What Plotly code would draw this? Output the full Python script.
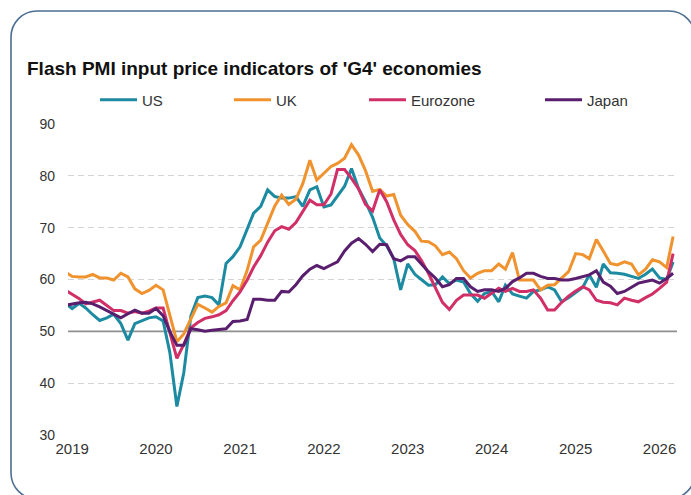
import pandas as pd
import plotly.graph_objects as go

# ---------------- data (monthly, Dec 2018 .. Mar 2026) ----------------
start_month = "2018-12-01"

us = [55.5, 54.4, 55.4, 54.5, 53.2, 52.1, 52.6, 53.3, 51.5, 48.3, 51.5, 52.1, 52.6, 52.8, 52.0,
      46.0, 35.5, 42.0, 53.0, 56.5, 56.8, 56.5, 55.1, 63.1, 64.4, 66.3, 69.6, 72.8, 74.1, 77.3,
      76.0, 75.7, 75.7, 76.0, 74.1, 77.3, 77.9, 74.0, 74.4, 76.0, 78.0, 81.4, 77.5, 75.0, 72.0,
      68.0, 66.5, 64.0, 58.0, 63.0, 61.0, 60.0, 58.9, 59.0, 60.5, 59.2, 59.9, 59.5, 57.3, 55.8,
      57.3, 57.7, 55.7, 58.9, 57.2, 56.8, 56.4, 57.7, 58.0, 58.6, 58.0, 55.7, 56.5, 57.5, 58.5,
      60.9, 58.5, 63.0, 61.3, 61.2, 61.0, 60.6, 60.2, 61.0, 62.0, 60.3, 60.0, 63.4]

uk = [61.5, 60.6, 60.5, 60.5, 61.0, 60.3, 60.3, 59.9, 61.2, 60.5, 58.2, 57.3, 57.9, 58.9, 58.0,
      53.0, 48.0, 49.5, 52.5, 55.2, 54.5, 53.7, 54.8, 55.5, 58.8, 58.0, 61.8, 66.3, 67.6, 70.8,
      74.2, 76.3, 74.5, 75.5, 78.5, 83.0, 79.2, 80.5, 81.8, 82.4, 83.4, 86.0, 84.0, 81.0, 77.0,
      77.4, 76.1, 76.4, 72.4, 70.6, 69.3, 67.4, 67.3, 66.5, 64.8, 65.3, 64.0, 61.7, 60.3, 61.2,
      61.7, 61.7, 63.0, 62.0, 65.2, 59.9, 59.9, 59.9, 58.0, 58.9, 59.0, 60.3, 61.5, 65.0, 64.8,
      64.0, 67.7, 65.5, 63.1, 62.8, 63.4, 63.0, 60.9, 62.0, 63.8, 63.4, 62.3, 68.3]

eurozone = [58.0, 57.2, 56.3, 55.3, 55.6, 56.0, 55.0, 54.0, 54.0, 53.5, 53.8, 53.5, 53.9, 54.5, 54.5,
            50.0, 44.8, 47.5, 50.7, 51.7, 52.5, 52.8, 53.2, 54.0, 55.9, 57.6, 59.9, 62.4, 64.6, 67.2,
            69.4, 70.2, 69.7, 71.0, 73.2, 75.3, 74.4, 74.4, 76.5, 81.2, 81.2, 79.5, 77.5, 74.5, 73.2,
            77.3, 75.0, 71.5, 68.7, 66.7, 65.6, 63.7, 61.2, 58.5, 55.6, 54.2, 56.0, 57.0, 57.0, 57.0,
            56.4, 57.3, 58.3, 57.7, 58.3, 57.7, 57.7, 58.0, 56.4, 54.1, 54.1, 55.6, 56.8, 57.8, 58.6,
            58.0, 56.0, 55.6, 55.5, 55.1, 56.4, 56.0, 55.7, 56.5, 57.2, 58.3, 59.5, 65.0]

japan = [55.0, 55.3, 55.5, 55.6, 55.3, 54.7, 54.0, 53.2, 52.6, 53.4, 54.1, 53.5, 53.5, 54.4, 53.0,
         50.0, 47.3, 47.3, 50.5, 50.3, 50.0, 50.2, 50.3, 50.5, 51.9, 52.0, 52.3, 56.2, 56.2, 56.0,
         56.0, 57.7, 57.6, 59.0, 60.7, 62.0, 62.7, 62.1, 62.8, 63.4, 65.5, 67.0, 67.9, 66.8, 65.4,
         66.8, 66.7, 64.0, 63.6, 64.4, 64.4, 63.0, 61.5, 60.3, 58.6, 59.0, 60.2, 60.2, 58.6, 57.7,
         58.0, 58.0, 57.7, 58.3, 59.6, 60.3, 61.2, 61.2, 60.6, 60.2, 60.2, 59.9, 59.9, 60.2, 60.6,
         60.9, 61.7, 59.5, 58.7, 57.3, 57.7, 58.5, 59.3, 59.6, 59.9, 59.3, 60.2, 61.2]

series_names = ["US", "UK", "Eurozone", "Japan"]
series_values = [us, uk, eurozone, japan]
series_colors = ["#1c8aa1", "#f0922e", "#d12f67", "#5a1e6e"]

year_ticks = ["2019-01-01", "2020-01-01", "2021-01-01", "2022-01-01",
              "2023-01-01", "2024-01-01", "2025-01-01", "2026-01-01"]
year_labels = ["2019", "2020", "2021", "2022", "2023", "2024", "2025", "2026"]
y_ticks = [30, 40, 50, 60, 70, 80, 90]
x_range = ["2018-12-14", "2026-03-18"]
y_range = [30, 90]
baseline = 50

dates = pd.date_range(start_month, periods=len(us), freq="MS")

# ---------------- layout geometry (pixels) ----------------
W, H = 691, 495
L, R, T, B = 68, 677, 124, 435
FONT = "Liberation Sans, Arial, sans-serif"

fig = go.Figure()

# solid 50 reference line, drawn under the series
fig.add_trace(go.Scatter(x=x_range, y=[baseline, baseline], mode="lines",
                         line=dict(color="#8f8f8f", width=1.6),
                         showlegend=False, hoverinfo="skip"))

legend_ids = ["legend", "legend2", "legend3", "legend4"]
for name, vals, col, lid in zip(series_names, series_values, series_colors, legend_ids):
    fig.add_trace(go.Scatter(x=dates, y=vals, mode="lines", name=name,
                             line=dict(color=col, width=3), legend=lid,
                             hoverinfo="x+y+name"))

def px2paper(px, py):
    return (px - L) / (R - L), (B - py) / (B - T)

# rounded border box
bx0, by0, bx1, by1, rad = 11, 11, 695, 499, 26
k = 0.5523 * rad
def P(x, y):
    a, b = px2paper(x, y)
    return f"{a:.5f},{b:.5f}"
path = (f"M{P(bx0 + rad, by0)} L{P(bx1 - rad, by0)} "
        f"C{P(bx1 - rad + k, by0)} {P(bx1, by0 + rad - k)} {P(bx1, by0 + rad)} "
        f"L{P(bx1, by1 - rad)} "
        f"C{P(bx1, by1 - rad + k)} {P(bx1 - rad + k, by1)} {P(bx1 - rad, by1)} "
        f"L{P(bx0 + rad, by1)} "
        f"C{P(bx0 + rad - k, by1)} {P(bx0, by1 - rad + k)} {P(bx0, by1 - rad)} "
        f"L{P(bx0, by0 + rad)} "
        f"C{P(bx0, by0 + rad - k)} {P(bx0 + rad - k, by0)} {P(bx0 + rad, by0)} Z")
fig.add_shape(type="path", path=path, xref="paper", yref="paper",
              line=dict(color="#4d6f91", width=1.6), layer="above")

legend_line_starts = [101, 235, 370, 546]
legend_common = dict(orientation="h", xref="paper", yref="paper",
                     xanchor="left", yanchor="middle", bgcolor="rgba(0,0,0,0)",
                     font=dict(family=FONT, size=15, color="#333333"),
                     itemwidth=37, tracegroupgap=0)
layout_legends = {}
for lid, xs in zip(legend_ids, legend_line_starts):
    lx, ly = px2paper(xs - 6, 100)
    layout_legends[lid] = dict(legend_common, x=lx, y=ly)

fig.update_layout(
    width=W, height=H,
    margin=dict(l=L, r=W - R, t=T, b=H - B, pad=0),
    paper_bgcolor="white", plot_bgcolor="white",
    font=dict(family=FONT, size=14, color="#333333"),
    title=dict(text="<b>Flash PMI input price indicators of 'G4' economies</b>",
               font=dict(family=FONT, size=19, color="#111111"),
               xref="container", yref="container", x=27 / W, xanchor="left",
               y=1 - 68 / H, yanchor="middle"),
    showlegend=True,
    xaxis=dict(type="date", range=x_range,
               tickvals=year_ticks, ticktext=year_labels,
               showgrid=False, zeroline=False, showline=False, ticks="",
               tickfont=dict(family=FONT, size=15, color="#333333"),
               ticklabelstandoff=3),
    yaxis=dict(range=y_range, tickvals=y_ticks, showgrid=True,
               gridcolor="#d4d4d4", gridwidth=1, griddash="6px,4px",
               zeroline=False, showline=False, ticks="",
               tickfont=dict(family=FONT, size=14, color="#333333"),
               ticklabelstandoff=12),
    **layout_legends,
)

fig.write_html("out.html",
               config={"displayModeBar": False},
               post_script="document.body.style.margin='0';document.body.style.padding='0';"
                           "document.documentElement.style.overflow='hidden';")
